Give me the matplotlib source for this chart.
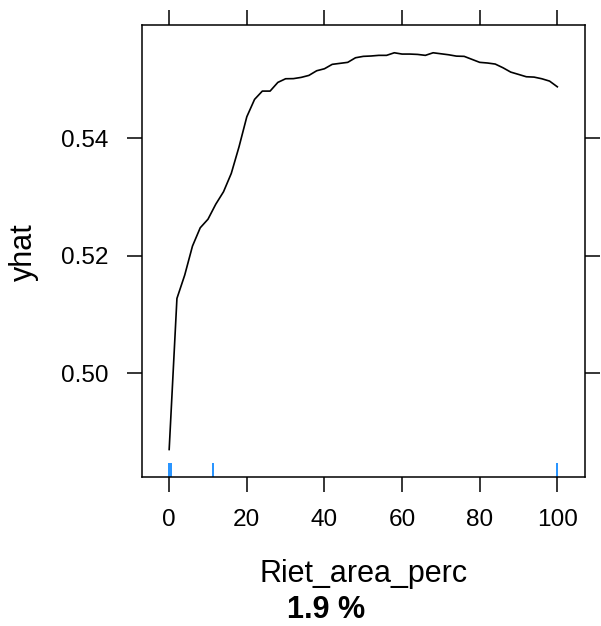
import matplotlib
matplotlib.use("Agg")
import matplotlib.pyplot as plt
import matplotlib.transforms as mtransforms

plt.rcParams['font.family'] = ['Liberation Sans', 'DejaVu Sans']

# Partial dependence values
riet_area_perc = [0, 2, 4, 6, 8, 10, 12, 14, 16, 18, 20, 22, 24, 26, 28, 30, 32, 34, 36, 38,
                  40, 42, 44, 46, 48, 50, 52, 54, 56, 58, 60, 62, 64, 66, 68, 70, 72, 74, 76, 78,
                  80, 82, 84, 86, 88, 90, 92, 94, 96, 98, 100]
yhat = [0.48706, 0.51277, 0.51673, 0.52167, 0.52479, 0.52625, 0.52880, 0.53092, 0.53404, 0.53858,
        0.54368, 0.54664, 0.54805, 0.54805, 0.54953, 0.55015, 0.55017, 0.55038, 0.55072, 0.55151,
        0.55185, 0.55260, 0.55277, 0.55294, 0.55372, 0.55396, 0.55402, 0.55413, 0.55413, 0.55457,
        0.55435, 0.55435, 0.55429, 0.55413, 0.55457, 0.55440, 0.55423, 0.55400, 0.55396, 0.55345,
        0.55294, 0.55283, 0.55265, 0.55202, 0.55128, 0.55089, 0.55049, 0.55043, 0.55015, 0.54975,
        0.54878]
# Rug (observed values)
rug_values = [0, 0.4, 11.3, 100]

x_ticks = [0, 20, 40, 60, 80, 100]
y_ticks = [0.50, 0.52, 0.54]
y_tick_labels = ["0.50", "0.52", "0.54"]
x_label = "Riet_area_perc"
y_label = "yhat"
sub_label = "1.9 %"

W, H = 601, 626
fig = plt.figure(figsize=(W / 100, H / 100), dpi=100)
L, R, T, B = 142, 584.5, 25, 477.3
ax = fig.add_axes([L / W, 1 - B / H, (R - L) / W, (B - T) / H])

ax.plot(riet_area_perc, yhat, color='black', lw=1.2, solid_joinstyle='round')

trans = mtransforms.blended_transform_factory(ax.transData, ax.transAxes)
for v in rug_values:
    ax.plot([v, v], [0, 0.031], color='#0080ff', lw=1.2, transform=trans, clip_on=False,
            solid_capstyle='butt')

xmin, xmax = min(riet_area_perc), max(riet_area_perc)
pad = 0.07 * (xmax - xmin)
ax.set_xlim(xmin - pad, xmax + pad)
ymin, ymax = min(yhat), max(yhat)
pady = 0.07 * (ymax - ymin)
ax.set_ylim(ymin - pady, ymax + pady)

ax.set_xticks(x_ticks)
ax.set_yticks(y_ticks)
ax.set_yticklabels(y_tick_labels)
ax.tick_params(axis='both', which='both', direction='out', length=11, width=1.1,
               labelsize=17.6, top=True, right=True, labeltop=False, labelright=False,
               color='black')
ax.tick_params(axis='x', pad=11.5)
ax.tick_params(axis='y', pad=13)
for s in ax.spines.values():
    s.set_linewidth(1.1)

fig.text(363.5 / W, 1 - 581.7 / H, x_label, fontsize=22, ha='center', va='baseline')
fig.text(325.8 / W, 1 - 618 / H, sub_label, fontsize=22, fontweight='bold', ha='center',
         va='baseline')
fig.text(31.8 / W, 1 - 251.7 / H, y_label, fontsize=22, rotation=90, ha='center',
         va='baseline', rotation_mode='anchor')

fig.savefig("out.png", dpi=100)
